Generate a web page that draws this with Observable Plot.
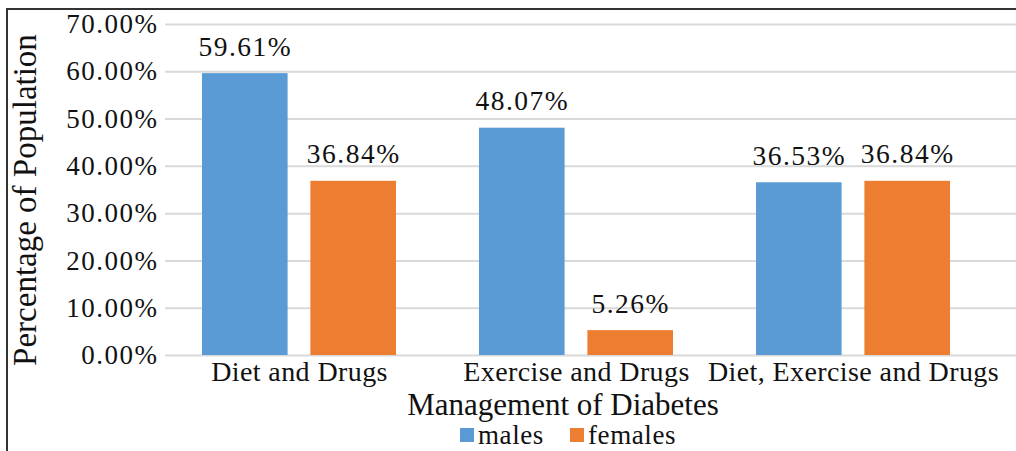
<!DOCTYPE html>
<html>
<head>
<meta charset="utf-8">
<script src="https://cdn.jsdelivr.net/npm/d3@7"></script>
<script src="https://cdn.jsdelivr.net/npm/@observablehq/plot@0.6"></script>
<style>
  html, body { margin: 0; padding: 0; background: #fff; overflow: hidden; width: 1016px; height: 451px; }
  #frame { position: absolute; left: 6px; top: 8px; width: 1100px; height: 600px; border: 2px solid #333; pointer-events: none; box-sizing: border-box; }
  #chart { position: absolute; left: 0; top: 0; }
  #chart svg text { font-family: "Liberation Serif", serif; }
  #chart .ls text { letter-spacing: 1.5px; }
  #chart .lx text { letter-spacing: 0.4px; }
  #legend { position: absolute; left: 460px; top: 424px; height: 22px; display: flex; align-items: center; font-family: "Liberation Serif", serif; font-size: 27px; letter-spacing: 0.6px; line-height: 22px; color: #111; }
  #legend .sw { width: 14px; height: 14px; display: inline-block; margin-right: 4px; }
  #legend .item { display: flex; align-items: center; margin-right: 26px; }
</style>
</head>
<body>
<div id="chart"></div>
<div id="legend"></div>
<div id="frame"></div>
<script>
const categories = ["Diet and Drugs", "Exercise and Drugs", "Diet, Exercise and Drugs"];
const series = ["males", "females"];
const males = [0.5961, 0.4807, 0.3653];
const females = [0.3684, 0.0526, 0.3684];
const yTicks = [0, 0.1, 0.2, 0.3, 0.4, 0.5, 0.6, 0.7];
const colors = ["#5B9BD5", "#ED7D31"];
const yTitle = "Percentage of Population";
const xTitle = "Management of Diabetes";

const maleRows = categories.map((c, i) => ({category: c, series: "males", value: males[i]}));
const femaleRows = categories.map((c, i) => ({category: c, series: "females", value: females[i]}));

const fmt = d3.format(".2%");
const bandInset = 108.4;
const half = 54.2;
const serif = "Liberation Serif";

const chart = Plot.plot({
  width: 1016,
  height: 425,
  marginTop: 24,
  marginBottom: 70,
  marginLeft: 165,
  marginRight: 0,
  style: {fontFamily: "'Liberation Serif', serif", color: "#111", background: "transparent"},
  x: {domain: categories, range: [159, 992], paddingInner: 0.3, paddingOuter: 0.15},
  y: {domain: [0, 0.7]},
  color: {domain: series, range: colors},
  marks: [
    Plot.gridY(yTicks, {stroke: "#d9d9d9", strokeOpacity: 1, strokeWidth: 2}),
    Plot.axisY(yTicks, {tickSize: 0, tickPadding: 7, fontSize: 27, fontFamily: serif, tickFormat: d3.format(".2%"), label: null, className: "ls"}),
    Plot.axisX({tickSize: 0, tickPadding: 6, fontSize: 28, fontFamily: serif, label: null, className: "lx"}),
    Plot.barY(maleRows, {x: "category", y: "value", fill: "series", insetRight: bandInset}),
    Plot.barY(femaleRows, {x: "category", y: "value", fill: "series", insetLeft: bandInset}),
    Plot.text(maleRows, {x: "category", y: "value", text: d => fmt(d.value), dx: -half, dy: -18, lineAnchor: "bottom", fontSize: 27.5, fontFamily: serif, fill: "#111", className: "ls"}),
    Plot.text(femaleRows, {x: "category", y: "value", text: d => fmt(d.value), dx: half, dy: -18, lineAnchor: "bottom", fontSize: 27.5, fontFamily: serif, fill: "#111", className: "ls"}),
    Plot.text([yTitle], {frameAnchor: "left", textAnchor: "middle", text: d => d, rotate: -90, dx: -140, dy: 10, fontSize: 33, fontFamily: serif, fill: "#111"}),
    Plot.text([xTitle], {frameAnchor: "bottom", textAnchor: "middle", text: d => d, dx: -28, dy: 59, lineAnchor: "bottom", fontSize: 31, fontFamily: serif, fill: "#111"})
  ]
});
document.getElementById("chart").appendChild(chart);

const legend = document.getElementById("legend");
series.forEach((s, i) => {
  const item = document.createElement("span");
  item.className = "item";
  const sw = document.createElement("span");
  sw.className = "sw";
  sw.style.background = colors[i];
  item.appendChild(sw);
  item.appendChild(document.createTextNode(s));
  legend.appendChild(item);
});
</script>
</body>
</html>
